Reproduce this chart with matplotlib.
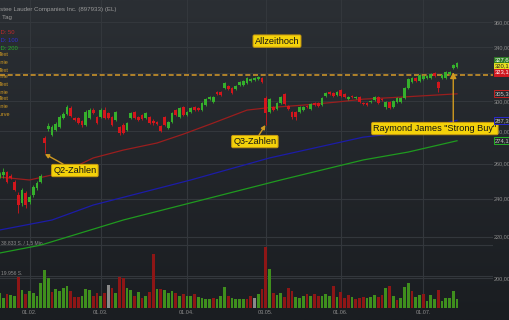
import numpy as np
import matplotlib
matplotlib.use("Agg")
import matplotlib.pyplot as plt
from matplotlib.colors import LinearSegmentedColormap
from matplotlib.ticker import NullLocator, NullFormatter

plt.rcParams['font.family'] = ['Liberation Sans', 'DejaVu Sans']

# ---------------- data (daily candles, trading-day index) ----------------
opens = [252.2, 253.4, 255.2, 252.8, 249.4, 242.0, 237.6, 243.1, 238.1, 242.0,
         245.9, 249.4, 275.8, 281.6, 277.7, 280.9, 282.9, 288.8, 291.4, 295.5,
         288.8, 288.8, 286.8, 284.2, 288.8, 294.1, 289.4, 289.4, 294.1, 292.1,
         289.4, 287.5, 282.9, 284.2, 280.9, 288.8, 292.8, 289.4, 290.8, 288.8,
         289.4, 286.8, 286.1, 283.5, 289.4, 282.2, 286.1, 294.1, 289.4, 296.1,
         290.8, 292.8, 296.1, 295.5, 294.1, 297.5, 301.6, 299.6, 306.5, 306.5,
         309.3, 310.7, 309.3, 308.6, 311.5, 311.5, 312.9, 314.3, 315.1, 315.8,
         316.5, 302.3, 292.8, 296.1, 294.8, 298.9, 305.1, 296.8, 292.8, 292.8,
         292.8, 294.1, 296.8, 294.8, 298.9, 298.9, 297.5, 303.7, 306.5, 305.8,
         304.4, 307.9, 305.1, 301.6, 303.7, 302.3, 303.0, 298.9, 298.9, 299.6,
         300.9, 303.0, 301.6, 296.1, 299.6, 296.1, 299.6, 299.6, 302.3, 309.3,
         313.6, 316.5, 314.3, 315.8, 316.5, 316.5, 320.2, 313.6, 316.5, 316.5,
         319.4, 323.9, 324.6]
closes = [254.0, 255.2, 249.4, 251.7, 244.8, 236.5, 244.8, 236.5, 240.9, 246.5,
          248.8, 252.8, 272.7, 283.5, 282.9, 284.8, 289.4, 291.4, 296.1, 290.1,
          287.5, 285.5, 284.2, 292.8, 294.1, 292.1, 285.5, 294.1, 288.8, 288.8,
          284.2, 292.8, 279.0, 279.0, 285.5, 292.1, 288.8, 287.5, 288.1, 292.1,
          285.5, 285.5, 284.8, 280.3, 284.2, 286.1, 292.1, 290.8, 295.5, 290.8,
          292.8, 295.5, 294.1, 294.1, 298.9, 301.6, 303.0, 303.0, 305.1, 304.4,
          312.9, 308.6, 305.8, 310.7, 313.6, 314.3, 316.5, 315.8, 316.5, 317.2,
          313.6, 292.1, 301.6, 294.1, 298.9, 303.0, 298.2, 294.8, 289.4, 289.4,
          296.1, 296.1, 296.1, 298.2, 297.5, 296.8, 302.3, 305.8, 305.1, 303.7,
          306.5, 303.7, 303.0, 303.0, 303.0, 303.0, 299.6, 298.2, 297.5, 300.2,
          303.0, 298.9, 300.9, 299.6, 295.5, 300.2, 302.3, 302.3, 309.3, 315.8,
          316.5, 314.3, 318.7, 318.0, 318.0, 319.4, 318.0, 309.3, 318.7, 320.9,
          320.9, 326.1, 327.67]
highs = [255.2, 257.5, 256.0, 254.0, 250.5, 243.7, 246.0, 244.5, 242.0, 247.6,
         250.0, 254.0, 277.1, 285.5, 284.0, 286.0, 290.5, 292.8, 297.5, 296.8,
         289.4, 289.4, 287.5, 294.1, 295.5, 295.5, 290.1, 295.5, 296.1, 292.8,
         290.1, 293.4, 283.5, 285.5, 286.1, 292.8, 293.4, 290.1, 291.4, 292.8,
         290.1, 288.1, 286.8, 284.2, 290.1, 286.8, 292.8, 294.8, 296.1, 296.8,
         293.4, 296.1, 296.8, 296.1, 299.6, 302.3, 303.7, 303.7, 307.2, 307.2,
         313.6, 311.5, 310.0, 311.5, 314.3, 315.1, 317.2, 316.5, 317.2, 318.0,
         317.2, 303.7, 302.3, 296.8, 299.6, 303.7, 305.8, 297.5, 293.4, 293.4,
         296.8, 296.8, 297.5, 298.9, 299.6, 299.6, 303.0, 306.5, 307.2, 306.5,
         307.2, 308.6, 305.8, 303.7, 304.4, 303.7, 303.7, 299.6, 299.6, 300.9,
         303.7, 303.7, 302.3, 300.2, 300.2, 300.9, 303.0, 303.0, 310.0, 316.5,
         317.2, 317.2, 319.4, 318.7, 318.7, 320.2, 320.9, 314.3, 319.4, 321.7,
         321.7, 326.9, 328.4]
lows = [251.7, 251.7, 248.8, 250.8, 244.0, 232.1, 236.0, 235.0, 237.0, 241.0,
        245.0, 248.8, 266.5, 280.0, 277.0, 280.3, 282.2, 288.1, 290.8, 289.4,
        286.8, 284.8, 282.9, 283.5, 288.1, 291.4, 284.8, 288.8, 288.1, 288.1,
        283.5, 286.8, 277.7, 278.3, 280.3, 288.1, 288.1, 286.8, 287.5, 288.1,
        284.8, 284.2, 284.2, 279.6, 283.5, 281.6, 285.5, 290.1, 288.8, 290.1,
        290.1, 292.1, 293.4, 293.4, 293.4, 296.8, 300.9, 298.9, 304.4, 303.7,
        308.6, 307.9, 305.1, 307.9, 310.7, 310.7, 312.2, 313.6, 314.3, 315.1,
        312.9, 284.2, 292.1, 293.4, 294.1, 298.2, 297.5, 294.1, 288.1, 287.5,
        292.1, 293.4, 295.5, 294.1, 296.8, 296.1, 296.8, 303.0, 304.4, 303.0,
        303.7, 303.0, 302.3, 300.9, 302.3, 301.6, 298.9, 297.5, 296.8, 298.9,
        300.2, 298.2, 300.2, 294.8, 294.8, 295.5, 298.9, 298.9, 301.6, 308.6,
        312.9, 313.6, 313.6, 315.1, 315.8, 315.8, 317.2, 306.5, 315.8, 315.8,
        318.7, 323.1, 324.1]
volumes = [9500, 6000, 8700, 7700, 7100, 19200, 11100, 8700, 10700, 9500,
           7400, 15500, 23200, 18200, 10100, 11700, 10700, 12100, 13500, 10700,
           6700, 6700, 7400, 11700, 11100, 7400, 9500, 7100, 9500, 14100,
           12100, 9100, 19200, 18200, 12100, 11100, 7400, 10100, 6000, 7400,
           10100, 33300, 11500, 11700, 11100, 9500, 10700, 9500, 7400, 8700,
           7100, 7400, 8700, 6500, 6000, 5400, 5600, 6000, 5600, 7100,
           13100, 7100, 6200, 5600, 5400, 5400, 5600, 7400, 6000, 8700,
           11700, 37300, 24200, 9100, 8000, 9100, 6700, 12100, 10700, 6700,
           6000, 7400, 8700, 7400, 8700, 7400, 7100, 8700, 7400, 13700,
           6700, 10100, 6000, 8000, 6500, 5600, 6000, 6500, 6000, 6500,
           8000, 6700, 8000, 12100, 13700, 7100, 5000, 6000, 13100, 15500,
           10500, 6700, 8000, 8700, 4400, 7700, 5400, 11100, 4400, 6000,
           6000, 10700, 5600]
vol_dir = list("ggrggrgrgg" "ggggrggggr" "rrgggrrgrn" "rgrrggrgrg"
               "rrgrgggrgr" "ggrggggrgg" "grggggrrng" "rrgrggrrrg"
               "ggrgrrgggr" "grrrgrrrgg" "grrgrgrggg" "rggrgggrgg" "ggg")

# moving averages (read at sample days)
ma50_idx = [0, 8, 14, 20, 25, 33, 42, 49, 57, 66, 72, 81, 90, 97, 107, 122]
ma50_val = [252.2, 250.5, 253.4, 258.1, 263.5, 268.3, 272.7, 278.3, 285.5,
            294.1, 295.8, 297.5, 299.6, 301.6, 303.0, 305.3]
ma100_idx = [0, 14, 25, 51, 72, 97, 109, 122]
ma100_val = [223.3, 228.5, 236.5, 250.5, 263.5, 276.4, 279.6, 287.3]
ma200_idx = [0, 11, 33, 75, 97, 109, 122]
ma200_val = [211.8, 215.7, 228.5, 250.5, 262.3, 267.1, 274.1]

all_time_high = 318.8
price_ticks = [200, 220, 240, 260, 280, 300, 320, 340, 360]
vol_ticks = [19956, 38833]
vol_tick_labels = ["19.956 S.", "38.833 S. / 1,5 Mio."]
date_idx = [8, 27, 50, 71, 91, 113]
date_labels = ["01.02.", "01.03.", "01.04.", "03.05.", "01.06.", "01.07."]

# ---------------- figure ----------------
W, H = 510, 320
fig = plt.figure(figsize=(W / 100, H / 100), dpi=100)
fig.patch.set_facecolor('#1d2024')

bg = fig.add_axes([0, 0, 1, 1], zorder=0)
grad = np.linspace(0, 1, 256).reshape(-1, 1)
cmap = LinearSegmentedColormap.from_list('bg', ['#1a1d21', '#2b2f34'])
bg.imshow(grad, aspect='auto', cmap=cmap, extent=[0, 1, 0, 1], origin='lower')
bg.set_axis_off()

pos = [0.0, 12 / H, 493 / W, 308 / H]
axv = fig.add_axes(pos, zorder=1)
ax = fig.add_axes(pos, zorder=2)
for a in (axv, ax):
    a.patch.set_visible(False)
    for s in a.spines.values():
        s.set_visible(False)

xlim = (0.133, 131.6)
ax.set_yscale('log')
ax.set_ylim(186.7, 378.7)
ax.set_xlim(*xlim)
axv.set_xlim(*xlim)
axv.set_ylim(0, 308 * 615)
axv.set_xticks([])
axv.set_yticks([])

grid_c = '#33373c'
for v in price_ticks:
    axv.plot(xlim, [v, v], transform=ax.transData, color=grid_c, lw=0.8, zorder=0)
for v in vol_ticks:
    axv.axhline(v, color=grid_c, lw=0.8, zorder=0)
for d in date_idx:
    axv.axvline(d, color=grid_c, lw=0.8, zorder=0)

# volume
idx = np.arange(len(closes))
vcol = {'g': '#3f8f1d', 'r': '#8e1616', 'n': '#8a8a8a'}
axv.bar(idx, volumes, width=0.68, color=[vcol[c] for c in vol_dir], linewidth=0, zorder=2)
for v, lab in zip(vol_ticks, vol_tick_labels):
    axv.text(1.5 / 493, v, lab, transform=axv.get_yaxis_transform(), fontsize=3.6,
             color='#8c8c8c', ha='left', va='bottom')

# moving averages
ax.plot(ma200_idx, ma200_val, color='#1f9a1f', lw=0.9, zorder=2)
ax.plot(ma100_idx, ma100_val, color='#1c1ca8', lw=0.9, zorder=2)
ax.plot(ma50_idx, ma50_val, color='#9a1e1e', lw=0.9, zorder=2)

# all-time-high line
ax.axhline(all_time_high, color='#c8922a', lw=1.2, ls=(0, (3, 1.6)), zorder=2)

# candles
o = np.array(opens); c = np.array(closes)
h = np.array(highs); l = np.array(lows)
ccol = np.where(c >= o, '#35b02c', '#d3161c')
ax.vlines(idx, l, h, colors=ccol, lw=0.6, zorder=3)
ax.bar(idx, np.maximum(np.abs(c - o), 0.3), bottom=np.minimum(o, c), width=0.72,
       color=ccol, linewidth=0, zorder=4)

# axes ticks
ax.yaxis.tick_right()
ax.set_yticks(price_ticks)
ax.set_yticklabels([f"{v:.2f}".replace('.', ',') for v in price_ticks])
ax.yaxis.set_minor_locator(NullLocator())
ax.yaxis.set_minor_formatter(NullFormatter())
ax.tick_params(axis='y', length=0, pad=0.8, labelsize=4, labelcolor='#8c8c8c')
ax.set_xticks(date_idx)
ax.set_xticklabels(date_labels)
ax.tick_params(axis='x', length=0, pad=1.6, labelsize=4, labelcolor='#8c8c8c')

# header texts (cropped at the left edge like the source)
def ftxt(xp, yp, s, color, size=4.4, ha='left'):
    fig.text(xp / W, 1 - yp / H, s, color=color, fontsize=size, ha=ha, va='center')

ftxt(-4.5, 9, "Estee Lauder Companies Inc. (897933) (EL)", '#9a9a9a')
ftxt(-3, 18, "1 Tag", '#9a9a9a')
ftxt(-3.7, 33, "GD: 50", '#c0282a', 4.2)
ftxt(-3.7, 41, "GD: 100", '#3030d0', 4.2)
ftxt(-3.7, 48, "GD: 200", '#25b025', 4.2)
orange_lines = ["Text", "Linie", "Text", "Linie", "Text", "Linie", "Text", "Linie", "Kurve"]
orange_y = [55, 63, 70, 77, 84, 92, 99, 107, 114]
for s, yy in zip(orange_lines, orange_y):
    ftxt(8.5 if s != "Kurve" else 10, yy, s, '#d29b22', 4.0, ha='right')

# annotations
box = dict(boxstyle='round,pad=0.18,rounding_size=0.15', fc='#f4d20a', ec='#c99a10', lw=0.7)
arrow = dict(arrowstyle='-|>,head_length=0.35,head_width=0.18', color='#d09a20', lw=1.0,
             shrinkA=0, shrinkB=0)
ann_kw = dict(fontsize=6.6, color='#151515', ha='center', va='center', bbox=box,
              annotation_clip=False, zorder=6)
ax.annotate("Allzeithoch", xy=(74.0, 344.6), **ann_kw)
ax.annotate("Q2-Zahlen", xy=(12.1, 265.9), xytext=(20.1, 256.0), arrowprops=arrow, **ann_kw)
ax.annotate("Q3-Zahlen", xy=(70.9, 284.2), xytext=(68.1, 273.6), arrowprops=arrow, **ann_kw)
ax.annotate("", xy=(121.0, 320.9), xytext=(121.0, 285.5), arrowprops=arrow, zorder=6)
ax.annotate('Raymond James "Strong Buy"', xy=(116.1, 281.9), **ann_kw)

# right side value labels
def vlabel(yv, s, fc, ec, tc):
    ax.annotate(s, xy=(1.0, yv), xycoords=('axes fraction', 'data'), xytext=(1.2, 0),
                textcoords='offset points', ha='left', va='center', fontsize=4.2,
                color=tc, annotation_clip=False, zorder=7,
                bbox=dict(boxstyle='square,pad=0.18', fc=fc, ec=ec, lw=0.7))

vlabel(329.9, f"{closes[-1]:.2f}".replace('.', ','), '#2e7d24', '#2e7d24', '#ffffff')
vlabel(325.4, "320,10", '#e6e020', '#e6e020', '#222222')
vlabel(320.9, "323,19", '#d01820', '#d01820', '#ffffff')
vlabel(ma50_val[-1], f"{ma50_val[-1]:.2f}".replace('.', ','), '#24272b', '#c02020', '#c8c8c8')
vlabel(ma100_val[-1], f"{ma100_val[-1]:.2f}".replace('.', ','), '#24272b', '#2a2ad0', '#c8c8c8')
vlabel(ma200_val[-1], f"{ma200_val[-1]:.2f}".replace('.', ','), '#24272b', '#25b025', '#c8c8c8')

fig.savefig("out.png", dpi=100, facecolor=fig.get_facecolor())
